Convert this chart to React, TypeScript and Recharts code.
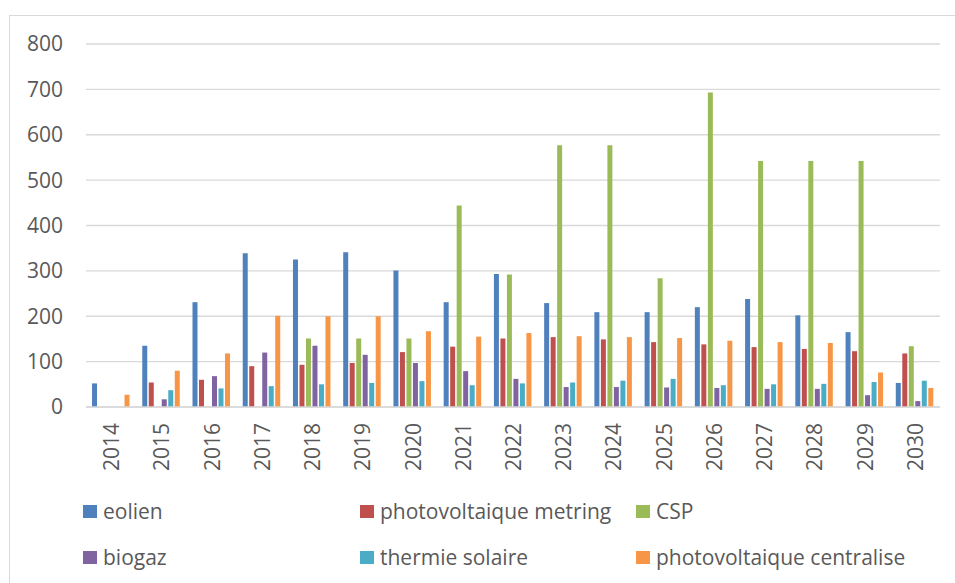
import React from "react";
import { BarChart, Bar, XAxis, YAxis, CartesianGrid, Legend } from "recharts";

const years = [
  "2014", "2015", "2016", "2017", "2018", "2019", "2020", "2021", "2022",
  "2023", "2024", "2025", "2026", "2027", "2028", "2029", "2030",
];
const eolien = [52, 135, 231, 339, 325, 341, 301, 231, 293, 229, 209, 209, 220, 238, 202, 165, 53];
const pvMetring = [0, 54, 60, 90, 93, 97, 121, 133, 151, 154, 149, 143, 138, 132, 128, 123, 118];
const csp = [0, 0, 0, 0, 151, 151, 151, 444, 292, 577, 577, 284, 693, 542, 542, 542, 134];
const biogaz = [0, 17, 68, 120, 135, 115, 97, 79, 62, 44, 44, 43, 42, 40, 40, 26, 13];
const thermie = [0, 37, 41, 46, 50, 53, 57, 48, 52, 54, 58, 62, 48, 50, 51, 55, 58];
const pvCentralise = [27, 80, 118, 201, 200, 200, 167, 155, 163, 156, 154, 152, 146, 143, 141, 76, 42];
const yTicks = [0, 100, 200, 300, 400, 500, 600, 700, 800];

const series = [
  { key: "eolien", name: "eolien", color: "#4F81BD" },
  { key: "pvMetring", name: "photovoltaique metring", color: "#C0504D" },
  { key: "csp", name: "CSP", color: "#9BBB59" },
  { key: "biogaz", name: "biogaz", color: "#8064A2" },
  { key: "thermie", name: "thermie solaire", color: "#4BACC6" },
  { key: "pvCentralise", name: "photovoltaique centralise", color: "#F79646" },
];

const data = years.map((year, i) => ({
  year,
  eolien: eolien[i],
  pvMetring: pvMetring[i],
  csp: csp[i],
  biogaz: biogaz[i],
  thermie: thermie[i],
  pvCentralise: pvCentralise[i],
}));

const FONT = "'Open Sans', sans-serif";
const TEXT = "#595959";

const YearTick = (props: any) => {
  const { x, y, payload } = props;
  return (
    <text
      x={x}
      y={y}
      transform={`rotate(-90, ${x}, ${y})`}
      textAnchor="end"
      dominantBaseline="central"
      fill={TEXT}
      fontSize={21}
      fontFamily={FONT}
    >
      {payload.value}
    </text>
  );
};

// three columns, two rows, like the Excel legend
const colLeft = [83, 360, 636];

const renderLegend = () => (
  <div style={{ position: "relative", width: 955, height: 80 }}>
    {series.map((s, i) => (
      <div
        key={s.key}
        style={{
          position: "absolute",
          left: colLeft[i % 3],
          top: i < 3 ? 0 : 46,
          display: "flex",
          alignItems: "center",
          height: 30,
          fontFamily: FONT,
          fontSize: 21,
          color: TEXT,
          whiteSpace: "nowrap",
        }}
      >
        <span
          style={{
            display: "inline-block",
            width: 14,
            height: 13,
            background: s.color,
            marginRight: 6,
          }}
        />
        {s.name}
      </div>
    ))}
  </div>
);

export default function App() {
  return (
    <div
      style={{
        position: "absolute",
        left: 0,
        top: 0,
        width: 955,
        height: 583,
        overflow: "hidden",
        background: "#fff",
      }}
    >
      <div
        style={{
          position: "absolute",
          left: 9,
          top: 15,
          width: 980,
          height: 620,
          border: "1px solid #d9d9d9",
        }}
      />
      <BarChart
        width={955}
        height={583}
        data={data}
        margin={{ top: 44, right: 15, left: 0, bottom: 116 }}
        barCategoryGap="12%"
        barGap={1.5}
      >
        <CartesianGrid vertical={false} stroke="#d9d9d9" strokeWidth={1.3} />
        <XAxis
          dataKey="year"
          interval={0}
          height={60}
          tickLine={false}
          tickSize={0}
          tickMargin={16}
          axisLine={{ stroke: "#d9d9d9", strokeWidth: 1.3 }}
          tick={<YearTick />}
        />
        <YAxis
          width={86}
          domain={[0, 800]}
          ticks={yTicks}
          axisLine={false}
          tickLine={false}
          tickSize={0}
          tickMargin={23}
          tick={{ fill: TEXT, fontSize: 21, fontFamily: FONT }}
        />
        <Legend
          layout="horizontal"
          verticalAlign="middle"
          align="center"
          content={renderLegend}
          wrapperStyle={{ position: "absolute", left: 0, top: 496, width: 955, height: 80 }}
        />
        {series.map((s) => (
          <Bar
            key={s.key}
            dataKey={s.key}
            name={s.name}
            fill={s.color}
            isAnimationActive={false}
          />
        ))}
      </BarChart>
    </div>
  );
}
